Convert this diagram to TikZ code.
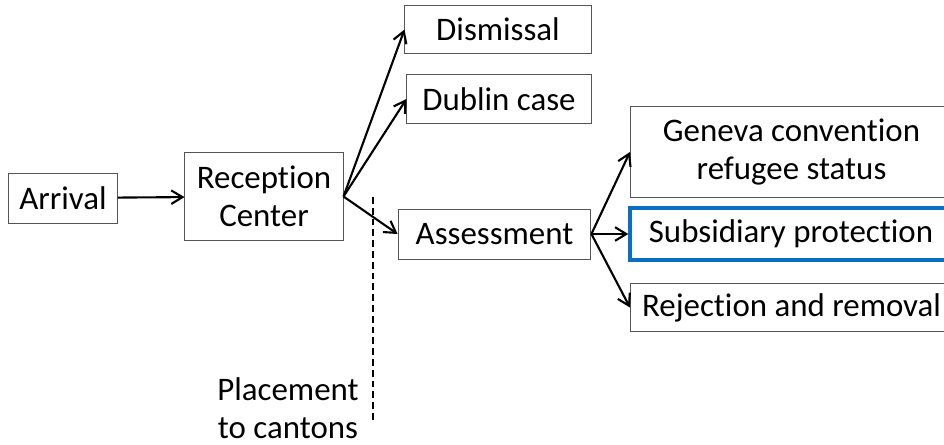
\documentclass[tikz,border=0pt]{standalone}
\usepackage{fontspec}
\setmainfont[Ligatures=NoCommon]{Carlito}
\usepackage{tikz}
\usetikzlibrary{arrows.meta,positioning}
\definecolor{boxline}{HTML}{555555}
\definecolor{hiblue}{HTML}{0A6FC2}

\begin{document}
\begin{tikzpicture}[x=0.025cm, y=-0.025cm,
    every node/.style={font=\fontsize{23.4}{27}\selectfont, inner sep=0pt},
    box/.style={draw=boxline, line width=0.7pt, align=center},
    arr/.style={-{Straight Barb[length=2.8mm,width=3.4mm]}, line width=1.5pt}]
            \useasboundingbox (0,0) rectangle (944,445);
            \clip (0,0) rectangle (944,445);

            % Left part
            \node[box, minimum width=2.7cm, minimum height=1.25cm] (arrival) at (63,198) {Arrival};
            \node[box, minimum width=3.95cm, minimum height=2.22cm] (reception) at (264,196.5) {Reception\\Center};

            % First outcomes
            \node[box, minimum width=4.65cm, minimum height=1.22cm] (dismissal) at (498,29.5) {Dismissal};
            \node[box, minimum width=4.6cm, minimum height=1.2cm] (dublin) at (499,99) {Dublin case};
            \node[box, minimum width=4.82cm, minimum height=1.25cm] (assess) at (494.5,234) {Assessment};

            % Decisions
            \node[box, minimum width=8.05cm, minimum height=2.25cm] (geneva) at (791.5,152) {Geneva convention\\refugee status};
            \node[box, draw=hiblue, line width=2.4pt, minimum width=8.05cm, minimum height=1.3cm] (subsid) at (791,234) {Subsidiary protection};
            \node[box, minimum width=8.05cm, minimum height=1.22cm] (reject) at (791.5,307.5) {Rejection and removal};

            % Placement
            \coordinate (dtop) at (373,197);
            \coordinate (dbot) at (373,423);
            \draw[line width=1pt, dash pattern=on 0.17cm off 0.1cm] (dtop) -- (dbot);
            \node[align=center] (placement) at (288,408) {Placement\\to cantons};

            % Arrows
            \draw[arr] (arrival) -- (reception);
            \draw[arr] (reception.east) -- (dismissal.west);
            \draw[arr] (reception.east) -- (dublin.west);
            \draw[arr] (reception.east) -- (assess.west);
            \draw[arr] (assess.east) -- (geneva.west);
            \draw[arr] (assess.east) -- (subsid.west);
            \draw[arr] (assess.east) -- (reject.west);
        \end{tikzpicture}
\end{document}
